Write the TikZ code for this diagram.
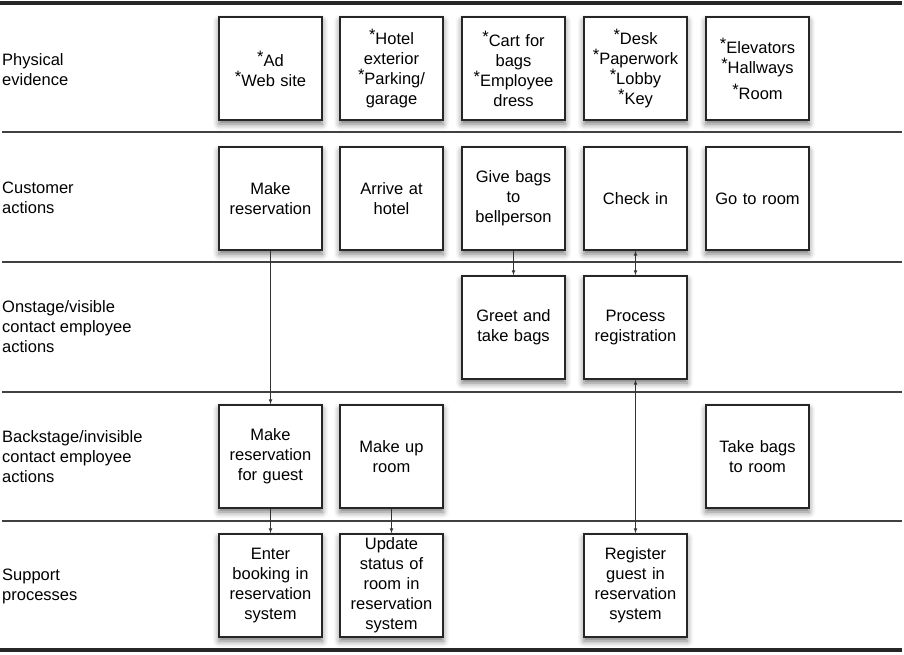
\documentclass[tikz,border=0pt]{standalone}
\usepackage{fontspec}
\setmainfont{Liberation Sans}
\usetikzlibrary{shadows.blur}
\newcommand{\etoile}{\raisebox{4pt}{*}}

\begin{document}
\begin{tikzpicture}[x=1pt, y=-1pt]
				\tikzset{boite/.style={rectangle, draw=black!85, line width=1.6pt, fill=white, minimum width=103pt, minimum height=103pt, text width=100pt, align=center, inner sep=0pt, font=\fontsize{16.5}{20}\selectfont, blur shadow={shadow xshift=0pt, shadow yshift=-4pt, shadow blur radius=6pt, shadow opacity=55}},
				etiquette/.style={anchor=west, align=left, inner sep=0pt, font=\fontsize{16.5}{20}\selectfont},
				fleche/.style={>=latex, ->, line width=0.7pt, black!80},
				ligne/.style={line width=2pt, black!75}, bord/.style={line width=3.2pt, black!85}};
				\useasboundingbox (0,0) rectangle (904,654);

				\draw[bord] (0,3) -- (902,3);
				\draw[ligne] (2,132) -- (902,132);
				\draw[ligne] (2,262) -- (902,262);
				\draw[ligne] (2,392) -- (902,392);
				\draw[ligne] (2,521) -- (902,521);
				\draw[bord] (0,650) -- (902,650);

				\node[etiquette] (l1) at (2,70) {Physical\\evidence};
				\node[etiquette] (l2) at (2,198) {Customer\\actions};
				\node[etiquette] (l3) at (2,327) {Onstage/visible\\contact employee\\actions};
				\node[etiquette] (l4) at (2,457) {Backstage/invisible\\contact employee\\actions};
				\node[etiquette] (l5) at (2,586) {Support\\processes};

				\node[boite] (p1) at (270.5,68.5) {\etoile Ad\\\etoile Web site};
				\node[boite] (p2) at (391.5,68.5) {\etoile Hotel\\exterior\\\etoile Parking/\\garage};
				\node[boite] (p3) at (513.5,68.5) {\etoile Cart for\\bags\\\etoile Employee\\dress};
				\node[boite] (p4) at (635.5,68.5) {\etoile Desk\\\etoile Paperwork\\\etoile Lobby\\\etoile Key};
				\node[boite] (p5) at (757.5,68.5) {\etoile Elevators\\\etoile Hallways\\[6pt]\etoile Room};

				\node[boite] (c1) at (270.5,198.5) {Make\\reservation};
				\node[boite] (c2) at (391.5,198.5) {Arrive at\\hotel};
				\node[boite] (c3) at (513.5,198.5) {Give bags\\to\\bellperson};
				\node[boite] (c4) at (635.5,198.5) {Check in};
				\node[boite] (c5) at (757.5,198.5) {Go to room};

				\node[boite] (o3) at (513.5,327.5) {Greet and\\take bags};
				\node[boite] (o4) at (635.5,327.5) {Process\\registration};

				\node[boite] (b1) at (270.5,456.5) {Make\\reservation\\for guest};
				\node[boite] (b2) at (391.5,456.5) {Make up\\room};
				\node[boite] (b5) at (757.5,456.5) {Take bags\\to room};

				\node[boite] (s1) at (270.5,585.5) {Enter\\booking in\\reservation\\system};
				\node[boite] (s2) at (391.5,585.5) {Update\\status of\\room in\\reservation\\system};
				\node[boite] (s4) at (635.5,585.5) {Register\\guest in\\reservation\\system};

				\draw[fleche] (c1) -- (b1);
				\draw[fleche] (c3) -- (o3);
				\draw[fleche, <->] (c4) -- (o4);
				\draw[fleche, <->] (o4) -- (s4);
				\draw[fleche] (b1) -- (s1);
				\draw[fleche] (b2) -- (s2);
			\end{tikzpicture}
\end{document}
